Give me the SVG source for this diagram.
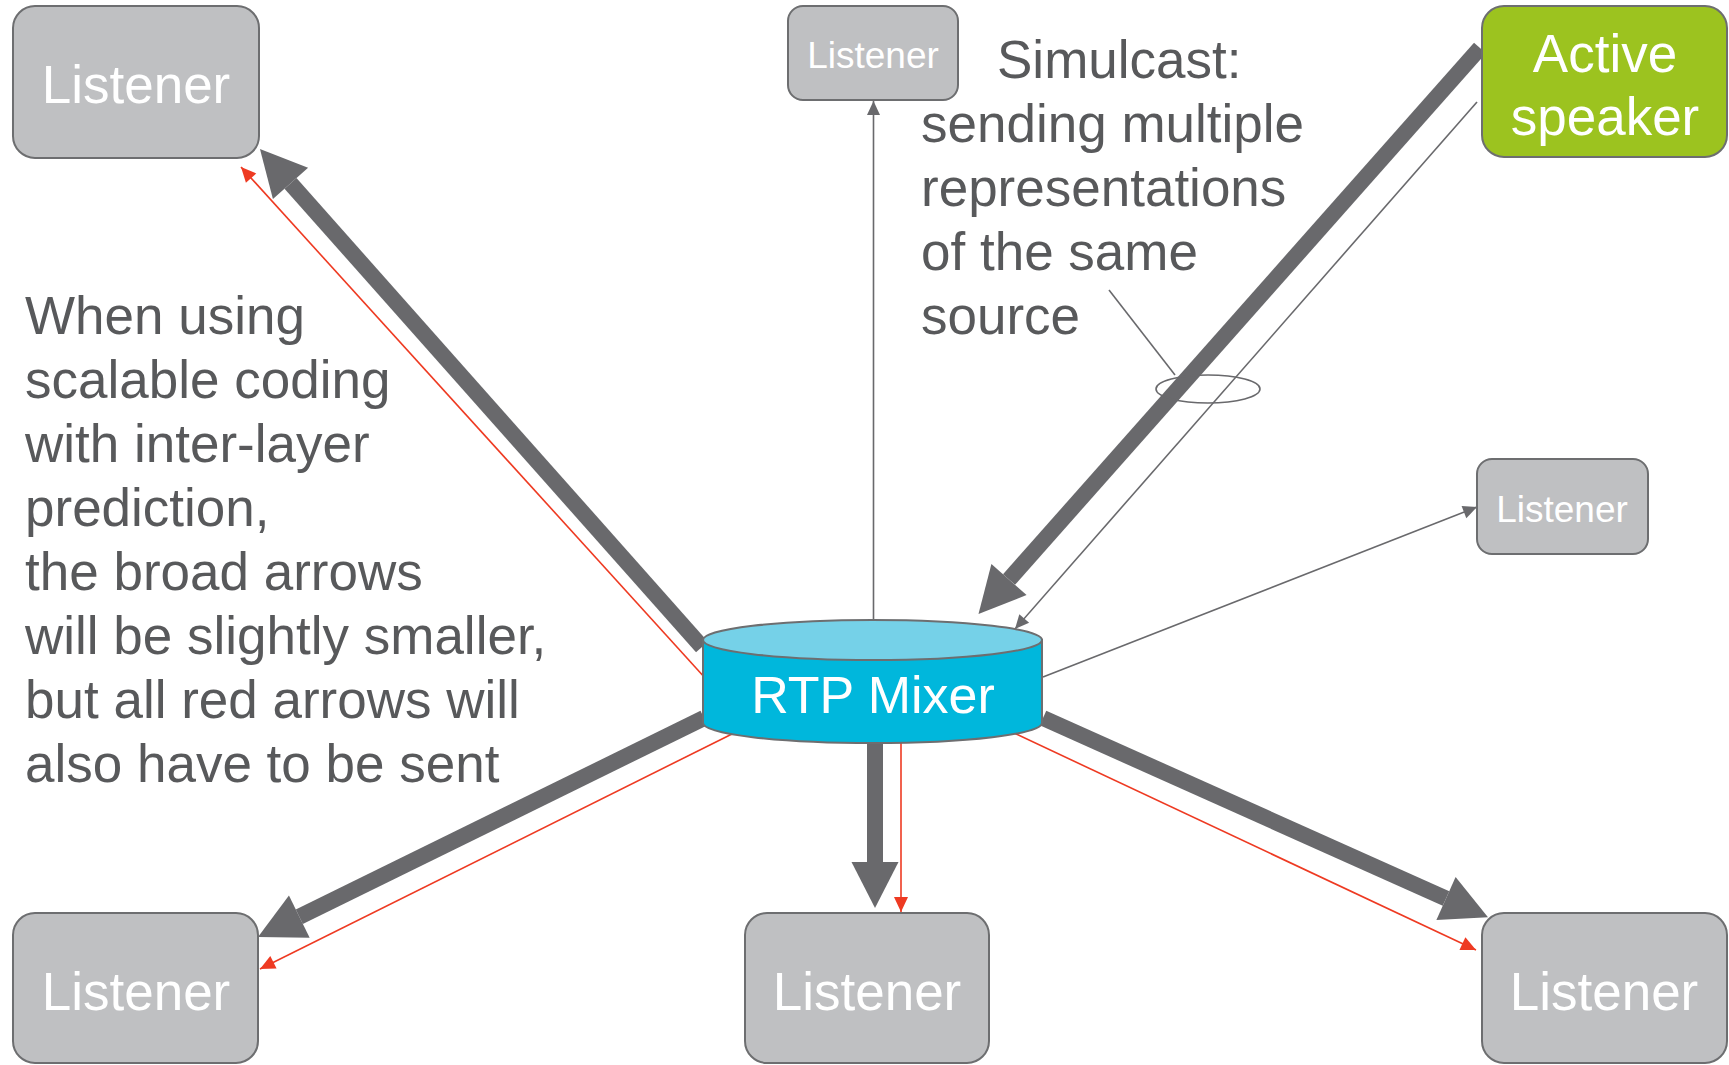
<svg xmlns="http://www.w3.org/2000/svg" width="1729" height="1065" viewBox="0 0 1729 1065">
  <style>
    text { font-family: "Liberation Sans", Arial, Helvetica, sans-serif; }
    .box { fill: #bfc0c2; stroke: #6d6e70; stroke-width: 2; }
    .speaker { fill: #9cc31f; stroke: #6d6e70; stroke-width: 2; }
    .label { fill: #ffffff; text-anchor: middle; }
    .big { font-size: 53px; }
    .small { font-size: 37px; }
    .note { fill: #58595b; font-size: 53px; }
    .broad { fill: none; stroke: #69696c; stroke-width: 16; }
    .thin { fill: none; stroke: #69696c; stroke-width: 1.6; }
    .red { fill: none; stroke: #ee3a22; stroke-width: 1.6; }
  </style>
  <defs>
    <marker id="headBroad" markerUnits="userSpaceOnUse" markerWidth="48" markerHeight="48" refX="0" refY="23.5" orient="auto" overflow="visible">
      <path d="M0,0 L46,23.5 L0,47 z" fill="#69696c"/>
    </marker>
    <marker id="headThin" markerUnits="userSpaceOnUse" markerWidth="16" markerHeight="16" refX="14" refY="6.5" orient="auto" overflow="visible">
      <path d="M0,0 L14,6.5 L0,13 z" fill="#69696c"/>
    </marker>
    <marker id="headRed" markerUnits="userSpaceOnUse" markerWidth="16" markerHeight="16" refX="15" refY="7" orient="auto" overflow="visible">
      <path d="M0,0 L15,7 L0,14 z" fill="#ee3a22"/>
    </marker>
  </defs>

  <!-- connectors -->
  <g id="connectors">
    <!-- mixer to top-left listener -->
    <path class="broad" d="M702,647 L290.5,183.4" marker-end="url(#headBroad)"/>
    <path class="red" d="M706,679 L241,167" marker-end="url(#headRed)"/>
    <!-- mixer to top listener -->
    <path class="thin" d="M873.5,622 L873.5,101" marker-end="url(#headThin)"/>
    <!-- active speaker to mixer -->
    <path class="broad" d="M1480,48 L1009,579.5" marker-end="url(#headBroad)"/>
    <path class="thin" d="M1477,102 L1015,629" marker-end="url(#headThin)"/>
    <!-- mixer to right listener -->
    <path class="thin" d="M1043,677 L1477,507" marker-end="url(#headThin)"/>
    <!-- mixer to bottom-left listener -->
    <path class="broad" d="M704,718 L299.3,916.7" marker-end="url(#headBroad)"/>
    <path class="red" d="M732,734 L260,969" marker-end="url(#headRed)"/>
    <!-- mixer to bottom listener -->
    <path class="broad" d="M875,735 L875,862" marker-end="url(#headBroad)"/>
    <path class="red" d="M901,740 L901,912" marker-end="url(#headRed)"/>
    <!-- mixer to bottom-right listener -->
    <path class="broad" d="M1043,718 L1446,898.5" marker-end="url(#headBroad)"/>
    <path class="red" d="M1014,733 L1476,950" marker-end="url(#headRed)"/>
    <!-- simulcast callout -->
    <ellipse cx="1208" cy="389" rx="52" ry="14" fill="none" stroke="#69696c" stroke-width="1.6"/>
    <path class="thin" d="M1109,290 L1175,375"/>
  </g>

  <!-- nodes -->
  <g id="listener-top-left">
    <rect class="box" x="13" y="6" width="246" height="152" rx="22"/>
    <text class="label big" x="136" y="103">Listener</text>
  </g>
  <g id="listener-top">
    <rect class="box" x="788" y="6" width="170" height="94" rx="15"/>
    <text class="label small" x="873" y="68">Listener</text>
  </g>
  <g id="active-speaker">
    <rect class="speaker" x="1482" y="6" width="245" height="151" rx="22"/>
    <text class="label big" x="1605" y="72">Active</text>
    <text class="label big" x="1605" y="135">speaker</text>
  </g>
  <g id="listener-right">
    <rect class="box" x="1477" y="459" width="171" height="95" rx="15"/>
    <text class="label small" x="1562" y="522">Listener</text>
  </g>
  <g id="listener-bottom-left">
    <rect class="box" x="13" y="913" width="245" height="150" rx="22"/>
    <text class="label big" x="136" y="1010">Listener</text>
  </g>
  <g id="listener-bottom">
    <rect class="box" x="745" y="913" width="244" height="150" rx="22"/>
    <text class="label big" x="867" y="1010">Listener</text>
  </g>
  <g id="listener-bottom-right">
    <rect class="box" x="1482" y="913" width="245" height="150" rx="22"/>
    <text class="label big" x="1604" y="1010">Listener</text>
  </g>
  <g id="rtp-mixer">
    <path d="M703,640 V723 A169.5,20 0 0 0 1042,723 V640 z" fill="#00b7dc" stroke="#6d6e70" stroke-width="2"/>
    <ellipse cx="872.5" cy="640" rx="169.5" ry="20" fill="#75d1e8" stroke="#6d6e70" stroke-width="2"/>
    <text class="label" x="873" y="713" font-size="52">RTP Mixer</text>
  </g>

  <!-- annotations -->
  <g id="note-simulcast" class="note">
    <text x="997" y="78">Simulcast:</text>
    <text x="921" y="142">sending multiple</text>
    <text x="921" y="206">representations</text>
    <text x="921" y="270">of the same</text>
    <text x="921" y="334">source</text>
  </g>
  <g id="note-scalable" class="note">
    <text x="25" y="334">When using</text>
    <text x="25" y="398">scalable coding</text>
    <text x="25" y="462">with inter-layer</text>
    <text x="25" y="526">prediction,</text>
    <text x="25" y="590">the broad arrows</text>
    <text x="25" y="654">will be slightly smaller,</text>
    <text x="25" y="718">but all red arrows will</text>
    <text x="25" y="782">also have to be sent</text>
  </g>
</svg>
